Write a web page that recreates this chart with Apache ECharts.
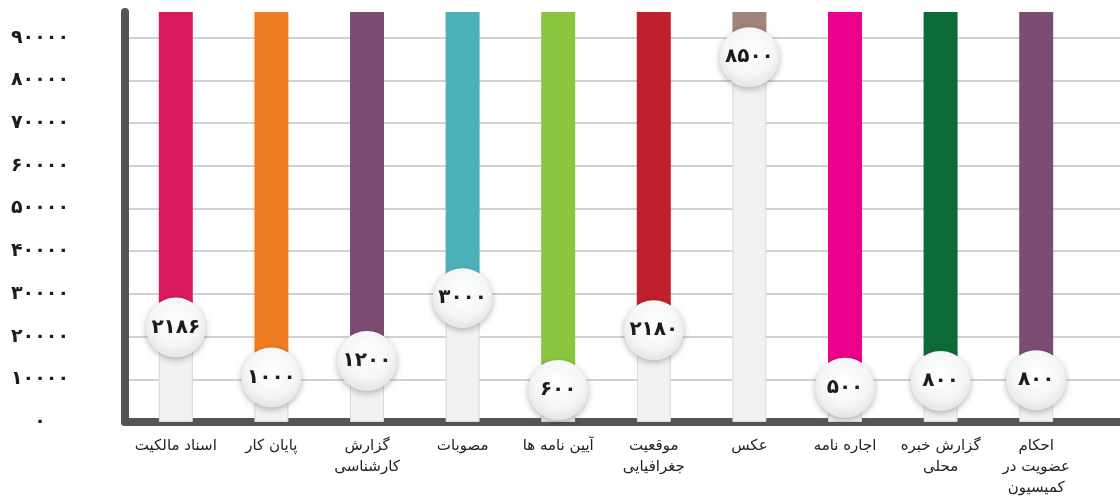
<!DOCTYPE html>
<html>
<head>
<meta charset="utf-8">
<script src="https://cdn.jsdelivr.net/npm/echarts@6/dist/echarts.min.js"></script>
<style>
html,body{margin:0;padding:0;background:#fff;}
#c{width:1120px;height:503px;}
</style>
</head>
<body>
<div id="c"></div>
<script>
const categories = ['اسناد مالکیت', 'پایان کار', 'گزارش\nکارشناسی', 'مصوبات', 'آیین نامه ها', 'موقعیت\nجغرافیایی', 'عکس', 'اجاره نامه', 'گزارش خبره\nمحلی', 'احکام\nعضویت در\nکمیسیون'];
const values = [22100, 10400, 14300, 29000, 7500, 21500, 85400, 8000, 9600, 9800];
const valueLabels = ['۲۱۸۶', '۱۰۰۰', '۱۲۰۰', '۳۰۰۰', '۶۰۰', '۲۱۸۰', '۸۵۰۰', '۵۰۰', '۸۰۰', '۸۰۰'];
const tickLabels = ['۰', '۱۰۰۰۰', '۲۰۰۰۰', '۳۰۰۰۰', '۴۰۰۰۰', '۵۰۰۰۰', '۶۰۰۰۰', '۷۰۰۰۰', '۸۰۰۰۰', '۹۰۰۰۰'];
const barColors = ['#d91a5f', '#f07d22', '#7d4c72', '#4db1b9', '#8bc53f', '#c01f2e', '#a08578', '#ec008c', '#0e6b38', '#7d4c72'];
const yMax = 96000;
const yStep = 10000;

const chart = echarts.init(document.getElementById('c'), null, {renderer: 'canvas'});
const font = 'DejaVu Sans';

chart.setOption({
  backgroundColor: '#ffffff',
  animation: false,
  grid: [
    {left: 128, right: 36, top: 12, bottom: 81},
    {left: 125, right: 0, top: 12, bottom: 81}
  ],
  xAxis: [
    {
      type: 'category', gridIndex: 0, data: categories,
      axisLine: {show: false}, axisTick: {show: false},
      axisLabel: {color: '#222', fontSize: 15, fontFamily: font, margin: 14, lineHeight: 21, interval: 0}
    },
    {
      type: 'value', gridIndex: 1, min: 0, max: 1,
      axisLine: {show: true, onZero: false, lineStyle: {color: '#555', width: 8}},
      axisTick: {show: false}, axisLabel: {show: false}, splitLine: {show: false}
    }
  ],
  yAxis: [
    {type: 'value', gridIndex: 0, min: 0, max: yMax, interval: yStep, show: false},
    {
      type: 'value', gridIndex: 1, min: 0, max: yMax, interval: yStep,
      axisLine: {show: true, lineStyle: {color: '#555', width: 8, cap: 'round'}},
      axisTick: {show: false},
      axisLabel: {
        show: true, showMaxLabel: false, align: 'center', margin: 85,
        color: '#1c1c1c', fontSize: 19, fontWeight: 'bold', fontFamily: font,
        formatter: function (v) {
          const i = Math.round(v / yStep);
          return (v % yStep === 0 && tickLabels[i] !== undefined) ? tickLabels[i] : '';
        }
      },
      splitLine: {show: true, showMaxLine: false, lineStyle: {color: '#c2c2c2', width: 1.5}}
    }
  ],
  series: [
    {
      type: 'bar', xAxisIndex: 0, yAxisIndex: 0, barWidth: 34, stack: 'col', z: 3,
      data: values,
      itemStyle: {color: '#eff1f3', borderColor: '#d6d8da', borderWidth: 1}
    },
    {
      type: 'bar', xAxisIndex: 0, yAxisIndex: 0, barWidth: 34, stack: 'col', z: 2,
      data: values.map((v, i) => ({value: yMax - v, itemStyle: {color: barColors[i]}}))
    },
    {
      type: 'scatter', xAxisIndex: 0, yAxisIndex: 0, z: 5,
      symbol: 'circle', symbolSize: 60,
      data: values.map((v, i) => ({value: [i, v], label: {formatter: valueLabels[i]}})),
      itemStyle: {
        opacity: 1,
        color: {type: 'radial', x: 0.5, y: 0.4, r: 0.6, colorStops: [
          {offset: 0, color: '#ffffff'}, {offset: 0.65, color: '#f5f6f7'}, {offset: 1, color: '#e4e5e7'}]},
        shadowColor: 'rgba(0,0,0,0.28)', shadowBlur: 6, shadowOffsetY: 2
      },
      label: {show: true, position: 'inside', color: '#1c1c1c', fontSize: 20, fontWeight: 'bold', fontFamily: font}
    }
  ]
});
</script>
</body>
</html>
